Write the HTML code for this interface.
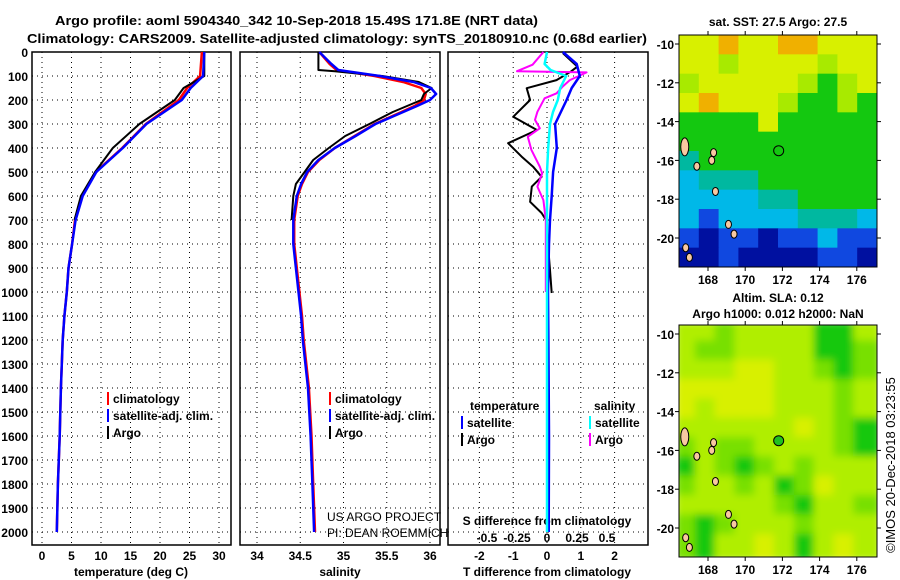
<!DOCTYPE html>
<html><head><meta charset="utf-8"><style>
body{margin:0;background:#fff}
svg{display:block;font-family:"Liberation Sans",sans-serif}
.t{font-weight:bold;font-size:13px}
.tk{font-weight:bold;font-size:12px}
.n{font-weight:normal;font-size:12px}
</style></head><body>
<svg id="s" width="900" height="580" viewBox="0 0 900 580">
<text class="t" x="55" y="25" textLength="483" lengthAdjust="spacingAndGlyphs">Argo profile: aoml 5904340_342 10-Sep-2018 15.49S 171.8E (NRT data)</text>
<text class="t" x="27" y="43" textLength="620" lengthAdjust="spacingAndGlyphs">Climatology: CARS2009. Satellite-adjusted climatology: synTS_20180910.nc (0.68d earlier)</text>
<g id="g"></g>
</svg>
<script>
// ---- data ----
const depthTicks=[0,100,200,300,400,500,600,700,800,900,1000,1100,1200,1300,1400,1500,1600,1700,1800,1900,2000];
const tTicks=[0,5,10,15,20,25,30];
const sTicks=[34,34.5,35,35.5,36];
const dtTicks=[-2,-1,0,1,2];
const dsTicks=[-0.5,-0.25,0,0.25,0.5];
const dsLabels=["-0.5","-0.25","0","0.25","0.5"];
const tDepth=[0,100,150,200,300,400,500,600,700,800,900,1000,1100,1200,1400,1600,1800,2000];
const tSat=[27.5,27.3,25.2,23.7,17.7,13.7,9.2,6.9,5.7,5.1,4.5,4.2,3.8,3.5,3.2,3.0,2.7,2.5];
const tClim=[27.1,26.8,24.6,23.2,17.6,13.6,9.1,6.8,5.6,5.1,4.5,4.2,3.8,3.5,3.2,3.0,2.7,2.5];
const aDepth=[0,100,150,200,300,400,500,600,700];
const tArgo=[27.5,27.5,24.0,22.5,16.5,12.0,9.0,6.6,5.5];
const sDepth=[0,50,75,100,125,150,175,200,225,250,300,350,400,450,500,550,600,700,800,900,1000,1100,1200,1400,1600,1800,2000];
const sSat=[34.72,34.86,34.94,35.42,35.81,36.01,36.07,36.0,35.85,35.69,35.37,35.14,34.9,34.71,34.58,34.51,34.46,34.42,34.42,34.45,34.48,34.51,34.53,34.59,34.62,34.64,34.66];
const sClim=[34.72,34.84,34.92,35.36,35.69,35.9,35.95,35.93,35.82,35.67,35.36,35.13,34.9,34.72,34.59,34.52,34.47,34.43,34.43,34.46,34.49,34.52,34.54,34.6,34.63,34.65,34.67];
const saDepth=[0,75,80,100,125,150,175,200,250,300,350,400,450,500,550,600,700];
const sArgo=[34.71,34.71,34.9,35.45,35.87,36.02,35.93,35.9,35.57,35.3,35.02,34.83,34.65,34.55,34.45,34.42,34.4];
const dtsDepth=[0,50,100,150,200,300,400,500,600,700,800,1000,1200,1600,2000];
const dtSat=[0.47,0.88,0.97,0.73,0.58,0.24,0.29,0.18,0.14,0.09,0.06,0.03,0.04,0.06,0.05];
const dtaDepth=[5,61,82,117,151,200,270,325,380,436,478,520,561,624,671,700,908,1004];
const dtArgo=[0.47,0.9,0.7,0.28,-0.6,-0.5,-1.0,-0.3,-1.15,-0.75,-0.41,-0.16,-0.45,-0.5,-0.16,-0.03,0.09,0.14];
const dsaDepth=[0,53,80,85,117,144,172,193,249,283,318,353,408,478,506,561,617,700,1000];
const dsArgo=[-0.03,-0.12,-0.25,0.33,0.19,0.13,0.08,-0.02,-0.08,-0.1,-0.06,-0.16,-0.13,-0.06,-0.04,-0.08,-0.03,-0.01,-0.01];
const dssDepth=[0,50,75,100,150,200,250,300,400,500,1000,2000];
const dsSat=[0,-0.02,0.03,0.16,0.11,0.09,0.05,0.025,0.01,0,0,0];
const lonTicks=[168,170,172,174,176];
const latTicks=[-10,-12,-14,-16,-18,-20];
const sstGrid=["YYOYYOOYYY","YYgYYYYgYY","gYYYYYgGgY","YOYYYgGGgG","GGGGYGGGGG","GGGGGGGGGG","TGGGGGGGGG","CTTTGGGGGG","CCCCTTGGGG","CBCCCCTTTC","BDBBDBBCBB","DDBDDDDBBD"];
const slaGrid=["LLMLLLLGGL","LMMLLLLGGM","LLLYYLLMGM","YYYYYLLLML","YLYYYLLLML","LLLLLLYLMG","MLMMLLLLMG","GLMGMLMLLL","MLLMLGMYLL","LLLLLMGLLM","MGMLLLMLLL","MGLLYLGLYL"];
const islandLon=[166.75,167.4,168.2,168.3,168.4,169.1,169.4,166.8,167.0];
const islandLat=[-15.3,-16.3,-16.0,-15.6,-17.6,-19.3,-19.8,-20.5,-21.0];
const floatLon=171.8, floatLat=-15.5;
// ---- helpers ----
const NS="http://www.w3.org/2000/svg";
const G=document.getElementById('g');
function el(t,a,p){const e=document.createElementNS(NS,t);for(const k in a)e.setAttribute(k,a[k]);(p||G).appendChild(e);return e;}
const y=d=>52+d*0.24;
const P=[{x0:32,x1:231},{x0:240,x1:440},{x0:448,x1:648}];
const xT=v=>42+v*5.9, xS=v=>257+(v-34)*86.5, xDT=v=>547+v*33.8, xDS=v=>547+v*120;
function txt(x,yy,s,cls,anchor,name){const e=el('text',{x:x,y:yy,class:cls||'tk','text-anchor':anchor||'start'});e.textContent=s;

return e;}
// frames + grid
P.forEach((p,i)=>{
  const f=el('rect',{x:p.x0,y:52,width:p.x1-p.x0,height:493,fill:'none',stroke:'#000','stroke-width':1.5});
  
  
  depthTicks.forEach(d=>{const l=el('line',{x1:p.x0,x2:p.x1,y1:y(d),y2:y(d),stroke:'#000','stroke-dasharray':'1 4'});
    
    });
});
depthTicks.forEach(d=>txt(28,y(d)+5,String(d),'tk','end','depth-tick-label'));
function vgrid(ticks,fx,p,labY,name){ticks.forEach(v=>{const l=el('line',{x1:fx(v),x2:fx(v),y1:52,y2:545,stroke:'#000','stroke-dasharray':'1 4'});
  
  
  if(labY)txt(fx(v),labY,String(v),'tk','middle',name+'-tick-label');});}
vgrid(tTicks,xT,P[0],560,'temperature');
vgrid(sTicks,xS,P[1],560,'salinity');
vgrid(dtTicks,xDT,P[2],560,'t-diff');
dsTicks.forEach((v,i)=>txt(xDS(v),542,dsLabels[i],'tk','middle','s-diff-tick-label'));
txt(131,576,'temperature (deg C)','tk','middle','x-axis-title-temperature');
txt(340,576,'salinity','tk','middle','x-axis-title-salinity');
txt(547,576,'T difference from climatology','tk','middle','x-axis-title-t-diff');
txt(547,525,'S difference from climatology','tk','middle','s-diff-axis-title');
// series
function line(xs,ds,fx,col,w,name){const pts=xs.map((v,i)=>fx(v).toFixed(1)+','+y(ds[i]).toFixed(1)).join(' ');
  const e=el('polyline',{points:pts,fill:'none',stroke:col,'stroke-width':w,'stroke-linejoin':'round'});
  
  }
line(tClim,tDepth,xT,'#f00',2.5,'temperature-climatology-line');
line(tArgo,aDepth,xT,'#000',2,'temperature-argo-line');
line(tSat,tDepth,xT,'#00f',2.5,'temperature-satellite-line');
line(sClim,sDepth,xS,'#f00',2.5,'salinity-climatology-line');
line(sArgo,saDepth,xS,'#000',2,'salinity-argo-line');
line(sSat,sDepth,xS,'#00f',2.5,'salinity-satellite-line');
line(dtArgo,dtaDepth,xDT,'#000',2,'t-diff-argo-line');
line(dsArgo,dsaDepth,xDS,'#f0f',2,'s-diff-argo-line');
line(dtSat,dtsDepth,xDT,'#00f',2.5,'t-diff-satellite-line');
line(dsSat,dssDepth,xDS,'#0ff',2.5,'s-diff-satellite-line');
// legends
function leg(x,yy,col,s,name){const m=el('rect',{x:x,y:yy-11,width:2,height:13,fill:col});
  
  
  txt(x+6,yy,s,'tk','start',name+'-label');}
[['#f00','climatology'],['#00f','satellite-adj. clim.'],['#000','Argo']].forEach((e,i)=>{leg(107,403+i*17,e[0],e[1],'legend-temp-'+i);leg(329,403+i*17,e[0],e[1],'legend-sal-'+i);});
txt(470,410,'temperature','tk','start','legend-t-diff-heading');
txt(594,410,'salinity','tk','start','legend-s-diff-heading');
leg(461,427,'#00f','satellite','legend-t-diff-satellite');leg(461,444,'#000','Argo','legend-t-diff-argo');
leg(589,427,'#0ff','satellite','legend-s-diff-satellite');leg(589,444,'#f0f','Argo','legend-s-diff-argo');
txt(327,521,'US ARGO PROJECT','n','start','credit-project');
txt(327,537,'PI: DEAN ROEMMICH','n','start','credit-pi');
// maps
const mapCol={Y:'#d8f000',O:'#f0b000',g:'#a8ea00',G:'#14c810',T:'#00b8a0',C:'#00b8e8',B:'#1048e0',D:'#0010a0',L:'#b0ee00',M:'#78e000'};
function map(top,grid,name,blur,titles,titleY){
  const x0=679,x1=877,y0=top,y1=top+232;
  const lx=v=>708+(v-168)*18.6, ly=v=>y0+9+(-10-v)*19.4;
  const cid='clip'+name;
  const cp=el('clipPath',{id:cid});el('rect',{x:x0,y:y0,width:x1-x0,height:y1-y0},cp);
  const g=el('g',{'clip-path':'url(#'+cid+')'});
  
  
  const gg=el('g',blur?{filter:'url(#bl)'}:{},g);
  const rows=grid.length,cols=grid[0].length,cw=(x1-x0)/cols,ch=(y1-y0)/rows;
  grid.forEach((r,i)=>[...r].forEach((c,j)=>{const e=el('rect',{x:x0+j*cw-(blur?4:0),y:y0+i*ch-(blur?4:0),width:cw+(blur?8:0.5),height:ch+(blur?8:0.5),fill:mapCol[c]},gg);
    
    }));
  islandLon.forEach((lo,i)=>{const e=el('ellipse',{cx:lx(lo),cy:ly(islandLat[i]),rx:i==0?4:3,ry:i==0?9:4,fill:'#f8c8a0',stroke:'#000','stroke-width':1},g);
    
    });
  const m=el('circle',{cx:lx(floatLon),cy:ly(floatLat),r:5,fill:blur?'#20c020':'none',stroke:'#000','stroke-width':1});
  
  
  const f=el('rect',{x:x0,y:y0,width:x1-x0,height:y1-y0,fill:'none',stroke:'#000','stroke-width':1});
  
  
  lonTicks.forEach(v=>{el('line',{x1:lx(v),x2:lx(v),y1:y0,y2:y0-4,stroke:'#000'});el('line',{x1:lx(v),x2:lx(v),y1:y1,y2:y1+4,stroke:'#000'});
    txt(lx(v),y1+17,String(v),'tk','middle',name+'-lon-label');});
  latTicks.forEach(v=>{el('line',{x1:x0,x2:x0-4,y1:ly(v),y2:ly(v),stroke:'#000'});el('line',{x1:x1,x2:x1+4,y1:ly(v),y2:ly(v),stroke:'#000'});
    txt(x0-5,ly(v)+5,String(v),'tk','end',name+'-lat-label');});
  titles.forEach((s,i)=>txt(778,titleY[i],s,'tk','middle',name+'-title-'+i));
}
const defs=el('defs',{});const fl=el('filter',{id:'bl',x:'-5%',y:'-5%',width:'110%',height:'110%'},defs);el('feGaussianBlur',{stdDeviation:4},fl);
map(35,sstGrid,'sst',false,['sat. SST: 27.5 Argo: 27.5'],[26]);
map(325,slaGrid,'sla',true,['Altim. SLA: 0.12','Argo h1000: 0.012 h2000: NaN'],[302,318]);
const c=txt(0,0,'©IMOS 20-Dec-2018 03:23:55','n','middle','timestamp-credit');
c.setAttribute('style','font-size:13px');c.setAttribute('transform','translate(895,465) rotate(-90)');
</script>
</body></html>
